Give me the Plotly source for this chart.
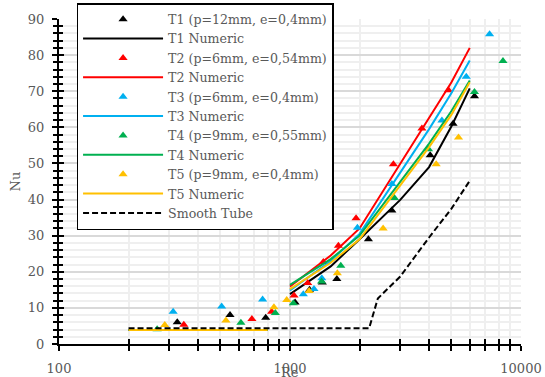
import plotly.graph_objects as go

# ---------------- data ----------------
t1_re = [325, 550, 785, 1052, 1215, 1380, 1595, 2185, 2760, 4045, 5080, 6290]
t1_nu = [6.0, 8.0, 7.3, 11.5, 15.0, 17.0, 18.0, 29.0, 37.0, 52.3, 61.0, 68.6]
t2_re = [347, 684, 833, 1041, 1193, 1394, 1620, 1932, 2803, 3724, 4853]
t2_nu = [5.3, 6.9, 8.9, 13.4, 16.9, 22.7, 27.2, 34.8, 49.8, 59.7, 70.3]
t3_re = [312, 506, 761, 1142, 1270, 1373, 1958, 2760, 4546, 5794, 7311]
t3_nu = [8.9, 10.4, 12.3, 13.8, 15.2, 18.2, 32.2, 44.3, 61.9, 74.0, 85.8]
t4_re = [266, 613, 864, 1034, 1370, 1659, 2832, 3977, 6290, 8355]
t4_nu = [4.1, 5.9, 8.6, 11.3, 17.3, 21.7, 40.4, 53.9, 69.8, 78.4]
t5_re = [287, 528, 852, 968, 1210, 1603, 2530, 4294, 5364]
t5_nu = [5.25, 6.5, 10.2, 12.2, 14.7, 19.6, 32.0, 49.8, 57.2]

num_re = [200, 800, None, 1000, 1500, 2000, 3000, 4000, 5000, 6000]
t1_num = [3.9, 3.9, None, 13.8, 21.5, 29.0, 39.9, 49.0, 60.3, 70.8]
t2_num = [3.9, 3.9, None, 15.9, 24.5, 32.0, 50.0, 62.5, 72.5, 82.0]
t3_num = [3.9, 3.9, None, 14.8, 23.0, 30.5, 47.5, 59.5, 69.5, 78.5]
t4_num = [3.9, 3.9, None, 16.4, 23.5, 30.0, 45.0, 55.5, 64.5, 73.0]
t5_num = [3.9, 3.9, None, 15.2, 22.5, 29.0, 44.0, 54.5, 63.5, 72.5]

smooth_re = [200, 2200, 2400, 3000, 4000, 5000, 6000]
smooth_nu = [4.36, 4.36, 12.6, 18.7, 29.5, 37.5, 45.2]

exp_names = ["T1 (p=12mm, e=0,4mm)", "T2 (p=6mm, e=0,54mm)", "T3 (p=6mm, e=0,4mm)",
             "T4 (p=9mm, e=0,55mm)", "T5 (p=9mm, e=0,4mm)"]
num_names = ["T1 Numeric", "T2 Numeric", "T3 Numeric", "T4 Numeric", "T5 Numeric"]
colors = ["#000000", "#FF0000", "#00B0F0", "#00B050", "#FFC000"]

x_tick_vals = [100, 1000, 10000]
x_tick_text = ["100", "1000", "10000"]
x_minor_vals = [200, 300, 400, 500, 600, 700, 800, 900,
                2000, 3000, 4000, 5000, 6000, 7000, 8000, 9000]

# ---------------- figure ----------------
FONT = "DejaVu Serif"
GREY = "#595959"

fig = go.Figure()
exp = [(t1_re, t1_nu), (t2_re, t2_nu), (t3_re, t3_nu), (t4_re, t4_nu), (t5_re, t5_nu)]
nums = [t1_num, t2_num, t3_num, t4_num, t5_num]
for i in range(5):
    fig.add_trace(go.Scatter(x=exp[i][0], y=exp[i][1], mode="markers", name=exp_names[i],
                             marker=dict(symbol="triangle-up", size=8, color=colors[i])))
    fig.add_trace(go.Scatter(x=num_re, y=nums[i], mode="lines", name=num_names[i],
                             line=dict(color=colors[i], width=2)))
fig.add_trace(go.Scatter(x=smooth_re, y=smooth_nu, mode="lines", name="Smooth Tube",
                         line=dict(color="#000000", width=2, dash="6px,3px")))

fig.update_layout(
    width=545, height=377,
    margin=dict(l=59, r=24, t=19, b=33, autoexpand=False),
    paper_bgcolor="white", plot_bgcolor="white",
    font=dict(family=FONT, size=13, color=GREY),
    showlegend=True,
    legend=dict(x=0.038, y=0.70, xanchor="left", yanchor="middle",
                bgcolor="white", bordercolor="black", borderwidth=1.5,
                font=dict(family=FONT, size=12.6, color=GREY),
                itemwidth=80, tracegroupgap=0),
    xaxis=dict(type="log", range=[2, 4], automargin=False,
               tickmode="array", tickvals=x_tick_vals, ticktext=x_tick_text,
               ticks="outside", ticklen=5, tickwidth=2, tickcolor="black",
               ticklabelstandoff=6,
               showline=True, linecolor="black", linewidth=2,
               showgrid=True, gridcolor="#d9d9d9", gridwidth=1.5,
               minor=dict(tickmode="array", tickvals=x_minor_vals, ticks="outside",
                          ticklen=5, tickwidth=2, tickcolor="black",
                          showgrid=True, gridcolor="#efefef", gridwidth=1.5),
               zeroline=False),
    yaxis=dict(range=[0, 90], dtick=10, tick0=0, automargin=False,
               ticks="outside", ticklen=5, tickwidth=2, tickcolor="black",
               ticklabelstandoff=5,
               showline=True, linecolor="black", linewidth=2,
               showgrid=True, gridcolor="#d9d9d9", gridwidth=1.5,
               minor=dict(dtick=2, ticks="outside", ticklen=4, tickwidth=1.5,
                          tickcolor="black", showgrid=True, gridcolor="#efefef",
                          gridwidth=1.5),
               zeroline=False,
               title=dict(text="Nu", standoff=4, font=dict(family=FONT, size=13, color=GREY))),
    xaxis2=dict(type="log", range=[2, 4], overlaying="x", anchor="y", side="bottom",
                automargin=False,
                tickmode="array", tickvals=x_tick_vals, showticklabels=False,
                ticks="inside", ticklen=5, tickwidth=2, tickcolor="black",
                showgrid=False, showline=False, zeroline=False,
                minor=dict(tickmode="array", tickvals=x_minor_vals, ticks="inside",
                           ticklen=5, tickwidth=2, tickcolor="black", showgrid=False)),
    yaxis2=dict(range=[0, 90], dtick=10, tick0=0, overlaying="y", anchor="x", side="left",
                automargin=False,
                showticklabels=False, ticks="inside", ticklen=5, tickwidth=2,
                tickcolor="black", showgrid=False, showline=False, zeroline=False,
                minor=dict(dtick=2, ticks="inside", ticklen=4, tickwidth=1.5,
                           tickcolor="black", showgrid=False)),
)
fig.add_trace(go.Scatter(x=[], y=[], xaxis="x2", yaxis="y2", showlegend=False, hoverinfo="skip"))

fig.add_annotation(text="Re", xref="paper", yref="paper", x=0.5, y=-0.058,
                   xanchor="center", yanchor="top", showarrow=False,
                   font=dict(family=FONT, size=13, color=GREY))

fig.write_html("out.html")
